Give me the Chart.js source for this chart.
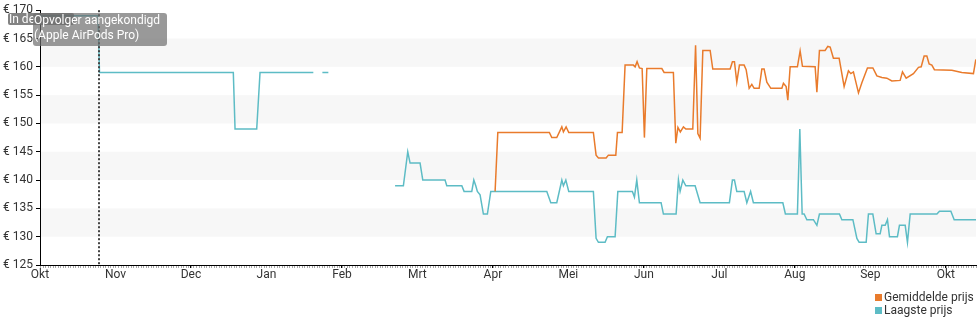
<!DOCTYPE html>
<html><head><meta charset="utf-8">
<script src="https://cdn.jsdelivr.net/npm/chart.js@4"></script>
<style>
html,body{margin:0;padding:0;background:#fff;}
#wrap{position:relative;width:980px;height:325px;overflow:hidden;}
canvas{position:absolute;left:0;top:0;}
#legend{position:absolute;left:875px;top:291px;font:12px Roboto, sans-serif;color:#333;line-height:13px;white-space:nowrap;}
#legend .sw{display:inline-block;width:7px;height:7px;margin-right:2px;}
</style></head>
<body><div id="wrap"><canvas id="c" width="980" height="325"></canvas><div id="legend"></div></div>
<script>
// x values are in "month units": 0 = start of Okt, 1 = start of Nov, ...
const monthLabels = ["Okt","Nov","Dec","Jan","Feb","Mrt","Apr","Mei","Jun","Jul","Aug","Sep","Okt"];
const priceTicks = [125,130,135,140,145,150,155,160,165,170];
const seriesNames = ["Gemiddelde prijs","Laagste prijs"];
const seriesColors = ["#e97b2c","#5dbcc5"];
const announceMonth = 0.775;
const announceTexts = ["In de", "Opvolger aangekondigd", "(Apple AirPods Pro)"];

const avgMonth = [6.029,6.065,6.748,6.780,6.846,6.913,6.934,6.970,7.005,7.331,7.367,7.398,7.500,7.530,7.628,7.650,7.712,7.751,7.861,7.884,7.910,7.941,7.977,8.007,8.039,8.238,8.268,8.391,8.423,8.451,8.483,8.524,8.556,8.648,8.685,8.715,8.745,8.781,8.878,8.913,9.143,9.173,9.200,9.231,9.266,9.328,9.355,9.395,9.430,9.461,9.527,9.563,9.593,9.629,9.682,9.828,9.849,9.885,9.907,9.938,10.034,10.070,10.101,10.269,10.292,10.326,10.401,10.437,10.468,10.511,10.587,10.653,10.710,10.742,10.776,10.843,10.888,10.962,11.034,11.087,11.153,11.219,11.285,11.395,11.426,11.475,11.571,11.638,11.674,11.713,11.749,11.779,11.815,11.849,12.080,12.212,12.366,12.398];
const avgPrice = [138,148.4,148.4,147.5,147.5,149.4,148.5,149.4,148.4,148.4,144.4,143.9,143.9,144.4,144.4,148.4,148.4,160.3,160.3,160.0,160.9,159.8,159.7,147.5,159.7,159.7,159.0,159.0,146.5,149.3,148.5,149.4,149,149,163.8,148.2,147.4,162.9,162.9,159.6,159.6,160.9,160.9,157.3,160.3,160.3,159.5,156.2,156.9,156.2,156.2,159.6,159.6,157.3,156.2,156.2,157.1,156.5,154.1,160.0,160,162.8,160.1,160,155.5,162.9,162.9,163.6,163.5,161.5,161.5,156.5,159.3,158.8,159.1,155.4,157.2,159.8,159.8,158.4,158.1,158.0,157.5,157.6,159.1,158.0,158.8,159.9,160.0,161.9,161.9,160.5,160.3,159.5,159.4,159.0,158.8,161.3];

const lowMonth = [0,0.769,0.788,2.561,2.584,2.871,2.915,3.621,3.68,3.741,3.820,3.9,4.704,4.814,4.872,4.903,5.035,5.071,5.366,5.389,5.588,5.618,5.720,5.747,5.773,5.794,5.830,5.874,5.927,5.972,6.714,6.767,6.846,6.913,6.934,6.966,7.005,7.331,7.367,7.398,7.486,7.517,7.619,7.655,7.848,7.875,7.906,7.941,8.228,8.259,8.427,8.458,8.480,8.516,8.556,8.679,8.745,9.133,9.173,9.200,9.231,9.328,9.364,9.414,9.451,9.841,9.875,10.034,10.066,10.097,10.123,10.159,10.246,10.292,10.326,10.591,10.623,10.769,10.822,10.852,10.945,10.975,11.033,11.077,11.130,11.153,11.197,11.227,11.254,11.359,11.386,11.462,11.492,11.528,11.882,11.916,12.067,12.111,12.402];
const lowPrice = [169,169,159,159,149,149,159,159,null,159,159,null,139,139,145,143,143,140,140,139,139,138,138,140,139,138,137.4,134,134,138,138,136,136,140,139,140,138,138,129.7,129,129,130,130,138,138,137,140,136,136,134,134,140,138,140,139,139,136,136,140,140,138,138,136,138,136,136,134,134,149,134,134,133,133,132,134,134,133,133,129.7,129,129,134,134,130.5,130.5,132,132,133,130,130,132,132,129,134,134,134.5,134.5,133,133];

const bands = [[130,135],[140,145],[150,155],[160,165]];

const bandPlugin = {
  id:'bands',
  beforeDraw(chart){
    const {ctx, chartArea:a, scales:{y}} = chart;
    ctx.save();
    ctx.fillStyle = '#f7f7f7';
    bands.forEach(([lo,hi])=>{
      const t = y.getPixelForValue(hi), b = y.getPixelForValue(lo);
      ctx.fillRect(a.left, t, a.right-a.left, b-t);
    });
    ctx.restore();
  }
};

const minorPlugin = {
  id:'minor',
  afterDraw(chart){
    const {ctx, chartArea:a, scales:{x}} = chart;
    ctx.save();
    ctx.strokeStyle = '#aaa';
    ctx.lineWidth = 1;
    ctx.beginPath();
    for(let d=0; d/30 <= x.max; d++){
      const px = Math.round(x.getPixelForValue(d/30))+0.5;
      ctx.moveTo(px, a.bottom+1);
      ctx.lineTo(px, a.bottom+3);
    }
    ctx.stroke();
    ctx.restore();
  }
};

function rr(ctx,x,y,w,h,r){
  ctx.beginPath();
  ctx.moveTo(x+r,y);ctx.lineTo(x+w-r,y);ctx.quadraticCurveTo(x+w,y,x+w,y+r);
  ctx.lineTo(x+w,y+h-r);ctx.quadraticCurveTo(x+w,y+h,x+w-r,y+h);
  ctx.lineTo(x+r,y+h);ctx.quadraticCurveTo(x,y+h,x,y+h-r);
  ctx.lineTo(x,y+r);ctx.quadraticCurveTo(x,y,x+r,y);ctx.closePath();
}

const annotPlugin = {
  id:'annot',
  afterDraw(chart){
    const {ctx, chartArea:a, scales:{x}} = chart;
    const lx = Math.round(x.getPixelForValue(announceMonth));
    ctx.save();
    ctx.strokeStyle = '#444';
    ctx.lineWidth = 2;
    ctx.setLineDash([2,2]);
    ctx.beginPath();
    ctx.moveTo(lx, a.top);
    ctx.lineTo(lx, a.bottom);
    ctx.stroke();
    ctx.setLineDash([]);
    ctx.font = '12px Roboto, sans-serif';
    ctx.textBaseline = 'middle';
    // box 1
    ctx.fillStyle = 'rgba(90,90,90,0.75)';
    rr(ctx, lx-91, 13, 66, 12, 2); ctx.fill();
    ctx.fillStyle = '#fff';
    ctx.fillText(announceTexts[0], lx-90, 19.5);
    // box 2
    ctx.fillStyle = 'rgba(110,110,110,0.7)';
    rr(ctx, lx-66, 13, 134, 33, 3); ctx.fill();
    ctx.fillStyle = '#fff';
    ctx.fillText(announceTexts[1], lx-65, 20.5);
    ctx.fillText(announceTexts[2], lx-65, 35.5);
    ctx.restore();
  }
};

const mk = (xs, ys) => xs.map((v,i)=>({x:v, y:ys[i]}));

new Chart(document.getElementById('c'), {
  type:'line',
  data:{
    datasets:[
      {label:seriesNames[0], data:mk(avgMonth, avgPrice), borderColor:seriesColors[0], backgroundColor:seriesColors[0], borderWidth:1.5, pointRadius:0, tension:0, spanGaps:false},
      {label:seriesNames[1], data:mk(lowMonth, lowPrice), borderColor:seriesColors[1], backgroundColor:seriesColors[1], borderWidth:1.5, pointRadius:0, tension:0, spanGaps:false}
    ]
  },
  options:{
    responsive:false, animation:false, devicePixelRatio:1,
    layout:{padding:{left:0,right:4,top:10,bottom:40}},
    plugins:{legend:{display:false}, tooltip:{enabled:false}},
    scales:{
      x:{type:'linear', min:0, max:12.4,
        afterBuildTicks:s=>{s.ticks = monthLabels.map((_,i)=>({value:i}));},
        afterFit:s=>{s.height=20;},
        ticks:{callback:(v,i)=>monthLabels[i], autoSkip:false, maxRotation:0, font:{family:'Roboto', size:12}, color:'#333', padding:0},
        grid:{drawOnChartArea:false, drawTicks:true, tickLength:3, color:'#000'},
        border:{display:true, color:'#000', width:1}
      },
      y:{min:125, max:170,
        afterBuildTicks:s=>{s.ticks = priceTicks.map(v=>({value:v}));},
        afterFit:s=>{s.width=40;},
        ticks:{callback:v=>'€ '+v, font:{family:'Roboto', size:12}, color:'#333', padding:3},
        grid:{drawOnChartArea:false, drawTicks:true, tickLength:4, color:'#000'},
        border:{display:true, color:'#000', width:1}
      }
    }
  },
  plugins:[bandPlugin, minorPlugin, annotPlugin]
});

const lg = document.getElementById('legend');
seriesNames.forEach((n,i)=>{
  const row = document.createElement('div');
  const sw = document.createElement('span');
  sw.className='sw'; sw.style.background=seriesColors[i];
  row.appendChild(sw);
  row.appendChild(document.createTextNode(n));
  lg.appendChild(row);
});
</script>
</body></html>
